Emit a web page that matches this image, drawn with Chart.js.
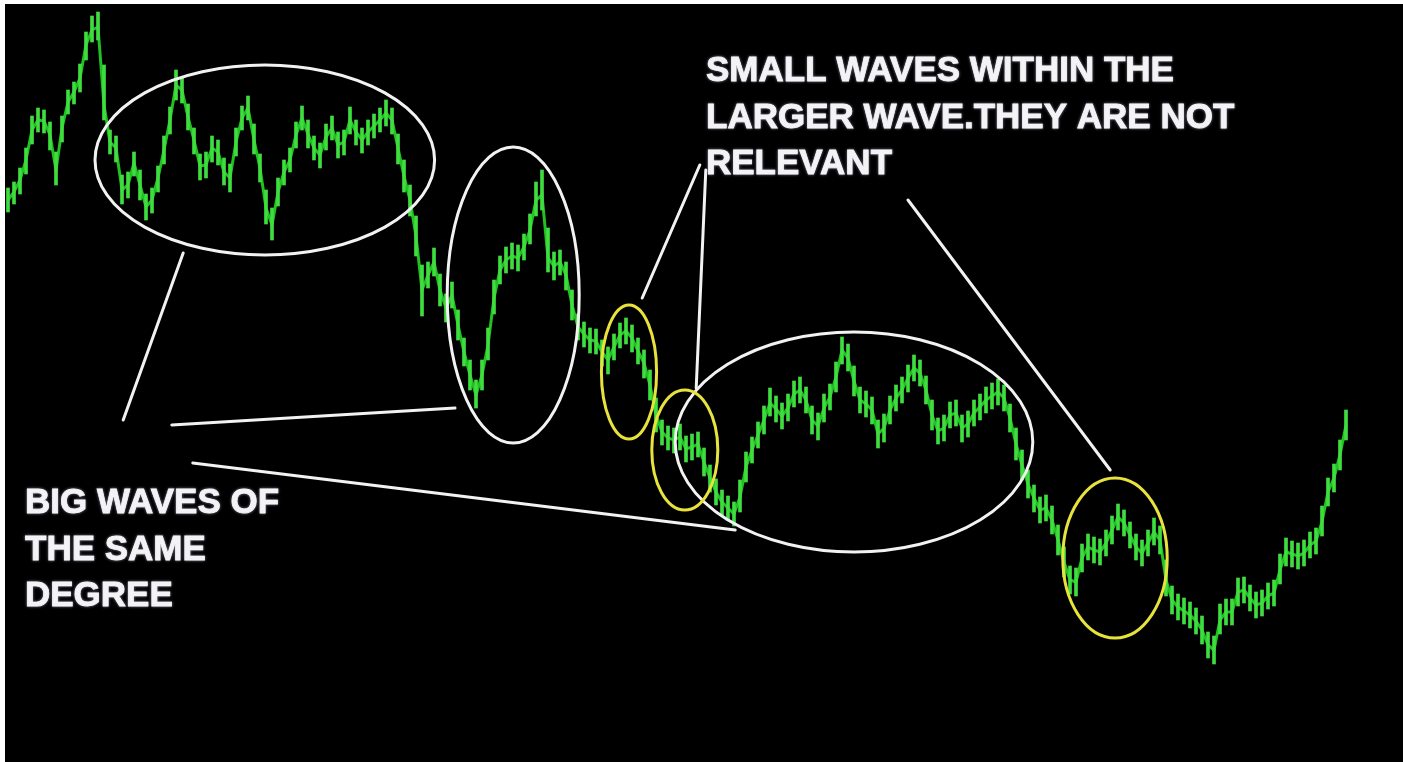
<!DOCTYPE html>
<html>
<head>
<meta charset="utf-8">
<script src="https://cdn.jsdelivr.net/npm/chart.js@4.4.1/dist/chart.umd.min.js"></script>
<style>
  html, body { margin: 0; padding: 0; background: #000; overflow: hidden; }
  canvas { display: block; }
</style>
</head>
<body>
<canvas id="waveChart" width="1403" height="762"></canvas>
<script>
// price bars (one bar per slot)
const closes = [
  800, 808, 820, 840, 870, 880, 879, 865, 830, 872, 898, 908, 922, 955, 970, 973,
  895, 858, 852, 810, 815, 837, 815, 793, 800, 822, 850, 880, 915, 910, 883, 860,
  834, 835, 852, 848, 828, 822, 858, 882, 892, 860, 832, 792, 775, 808, 828, 840,
  865, 882, 866, 852, 845, 863, 872, 855, 858, 880, 868, 860, 868, 874, 880, 887,
  880, 852, 824, 800, 764, 710, 725, 738, 710, 692, 705, 675, 648, 625, 605, 625,
  655, 702, 730, 740, 744, 742, 753, 770, 800, 805, 742, 734, 738, 725, 695, 673,
  666, 660, 659, 648, 640, 653, 665, 669, 662, 649, 637, 615, 585, 568, 562, 560,
  563, 551, 553, 556, 538, 522, 508, 498, 492, 486, 503, 533, 550, 565, 580, 597,
  591, 584, 592, 606, 610, 600, 580, 574, 592, 603, 623, 650, 642, 619, 600, 596,
  590, 566, 572, 590, 602, 610, 622, 632, 627, 610, 585, 569, 572, 585, 587, 572,
  576, 587, 593, 600, 604, 608, 602, 582, 556, 535, 516, 502, 490, 492, 480, 460,
  438, 420, 418, 442, 453, 450, 448, 457, 470, 483, 477, 465, 453, 447, 457, 468,
  460, 420, 400, 393, 389, 385, 379, 370, 355, 350, 380, 388, 388, 408, 410, 402,
  395, 397, 404, 407, 430, 448, 446, 444, 447, 455, 459, 478, 508, 522, 545, 575
];
const highs = [
  812, 818, 832, 852, 884, 892, 890, 878, 848, 884, 910, 918, 936, 968, 984, 988,
  935, 870, 864, 825, 828, 848, 830, 806, 812, 834, 864, 893, 930, 922, 896, 872,
  846, 848, 864, 860, 842, 836, 872, 894, 904, 876, 846, 810, 792, 822, 840, 852,
  878, 894, 880, 864, 857, 876, 884, 868, 870, 893, 880, 872, 880, 886, 892, 900,
  892, 866, 840, 815, 784, 735, 738, 752, 726, 706, 718, 690, 662, 640, 620, 640,
  672, 720, 744, 753, 757, 755, 766, 786, 818, 830, 772, 748, 750, 738, 710, 686,
  678, 672, 671, 660, 653, 666, 677, 682, 675, 662, 650, 630, 602, 580, 574, 572,
  576, 564, 566, 568, 552, 535, 521, 510, 504, 498, 520, 548, 563, 578, 594, 612,
  604, 597, 606, 619, 623, 613, 594, 587, 606, 616, 638, 663, 656, 634, 613, 609,
  603, 580, 586, 604, 615, 623, 635, 645, 640, 624, 600, 582, 585, 598, 600, 585,
  589, 600, 606, 613, 617, 621, 615, 596, 572, 550, 530, 515, 503, 505, 494, 475,
  453, 434, 432, 456, 466, 463, 461, 470, 484, 496, 490, 478, 466, 460, 470, 482,
  474, 440, 414, 406, 402, 398, 392, 384, 368, 364, 396, 401, 401, 422, 423, 415,
  408, 410, 417, 420, 446, 462, 459, 457, 460, 468, 472, 494, 522, 536, 560, 590
];
const lows = [
  788, 796, 806, 826, 856, 868, 867, 850, 815, 858, 886, 896, 908, 940, 958, 960,
  880, 846, 838, 796, 802, 824, 800, 780, 787, 808, 836, 866, 900, 897, 870, 846,
  820, 822, 838, 835, 815, 808, 844, 870, 880, 846, 818, 776, 760, 794, 815, 828,
  852, 870, 852, 840, 832, 850, 860, 842, 845, 866, 855, 847, 855, 862, 868, 874,
  866, 836, 808, 784, 744, 684, 712, 724, 694, 678, 692, 660, 634, 610, 592, 610,
  640, 686, 716, 727, 731, 729, 740, 756, 784, 790, 728, 720, 725, 710, 680, 660,
  653, 647, 646, 634, 626, 640, 652, 656, 648, 636, 622, 600, 568, 555, 550, 547,
  550, 538, 540, 543, 524, 508, 495, 485, 480, 474, 488, 518, 537, 552, 566, 584,
  578, 571, 579, 593, 597, 587, 566, 560, 578, 590, 608, 636, 629, 604, 587, 583,
  576, 552, 558, 576, 589, 597, 608, 619, 614, 596, 570, 556, 559, 572, 574, 558,
  563, 574, 580, 587, 591, 595, 589, 568, 540, 520, 502, 488, 477, 479, 466, 445,
  423, 406, 404, 428, 440, 437, 435, 444, 456, 470, 464, 452, 440, 434, 444, 455,
  446, 404, 386, 380, 376, 372, 366, 356, 342, 336, 366, 375, 375, 394, 397, 389,
  382, 384, 391, 394, 416, 434, 433, 431, 434, 442, 446, 464, 494, 508, 530, 560
];
const labels = closes.map((_, i) => String(i));

// annotations in chart units: [barIndex, price]
const whiteEllipses = [
  { c: [42.8, 840], rx: 28.3, ry: 95 },
  { c: [84.2, 705], rx: 11, ry: 148 },
  { c: [141, 558], rx: 29.8, ry: 110 }
];
const yellowEllipses = [
  { c: [103.5, 628], rx: 4.6, ry: 67 },
  { c: [112.8, 550], rx: 5.5, ry: 60 },
  { c: [184.5, 442], rx: 8.7, ry: 80 }
];
const pointerLines = [
  [[29.2, 747], [19.2, 580]],
  [[27.3, 575], [74.5, 592]],
  [[30.8, 537], [121.2, 470]],
  [[115.3, 835], [105.7, 702]],
  [[116.3, 830], [114.7, 612]],
  [[150, 800], [183.7, 530]]
];
const notes = [
  { lines: ['SMALL WAVES WITHIN THE', 'LARGER WAVE.THEY ARE NOT', 'RELEVANT'], x: 706, y: 81 },
  { lines: ['BIG WAVES OF', 'THE SAME', 'DEGREE'], x: 25, y: 513 }
];

const overlay = {
  id: 'overlay',
  beforeDraw(chart) {
    const c = chart.ctx;
    c.save();
    c.fillStyle = '#000';
    c.fillRect(0, 0, chart.width, chart.height);
    c.restore();
  },
  afterDraw(chart) {
    const c = chart.ctx;
    const xs = chart.scales.x, ys = chart.scales.y;
    const px = v => xs.getPixelForValue(v);
    const py = v => ys.getPixelForValue(v);
    const slot = px(1) - px(0);
    const unit = py(0) - py(1);

    c.save();
    c.lineWidth = 3;
    const ellipse = (e, color) => {
      c.strokeStyle = color;
      c.beginPath();
      c.ellipse(px(e.c[0]), py(e.c[1]), e.rx * slot, e.ry * unit, 0, 0, Math.PI * 2);
      c.stroke();
    };
    whiteEllipses.forEach(e => ellipse(e, '#f2f2f2'));
    yellowEllipses.forEach(e => ellipse(e, '#e8e23c'));

    c.strokeStyle = '#f2f2f2';
    c.lineCap = 'round';
    pointerLines.forEach(([a, b]) => {
      c.beginPath();
      c.moveTo(px(a[0]), py(a[1]));
      c.lineTo(px(b[0]), py(b[1]));
      c.stroke();
    });

    // bold captions with a soft glow, like the screenshot
    c.fillStyle = '#f6f6f6';
    c.strokeStyle = '#f6f6f6';
    c.lineWidth = 0.8;
    c.font = 'bold 35px "Liberation Sans", Arial, sans-serif';
    c.textBaseline = 'alphabetic';
    c.shadowColor = 'rgba(220,220,255,0.5)';
    c.shadowBlur = 3;
    notes.forEach(n => {
      n.lines.forEach((t, i) => {
        c.fillText(t, n.x, n.y + i * 46.5);
        c.strokeText(t, n.x, n.y + i * 46.5);
      });
    });
    c.shadowBlur = 0;

    // white frame on the left and top edges
    c.fillStyle = '#fff';
    c.fillRect(0, 0, 5, chart.height);
    c.fillRect(0, 0, chart.width, 4);
    c.restore();
  }
};

new Chart(document.getElementById('waveChart'), {
  type: 'bar',
  plugins: [overlay],
  data: {
    labels: labels,
    datasets: [
      {
        type: 'line',
        data: closes,
        borderColor: '#22c022',
        borderWidth: 3,
        pointRadius: 0,
        tension: 0,
        order: 2
      },
      {
        type: 'bar',
        data: lows.map((l, i) => [l, highs[i]]),
        backgroundColor: '#3fde3f',
        barThickness: 3,
        order: 1
      }
    ]
  },
  options: {
    responsive: false,
    animation: false,
    layout: { padding: { left: 5, right: 54, top: 0, bottom: 0 } },
    scales: {
      x: { display: false },
      y: { display: false, min: 238, max: 1000 }
    },
    plugins: {
      legend: { display: false },
      tooltip: { enabled: false }
    }
  }
});
</script>
</body>
</html>
